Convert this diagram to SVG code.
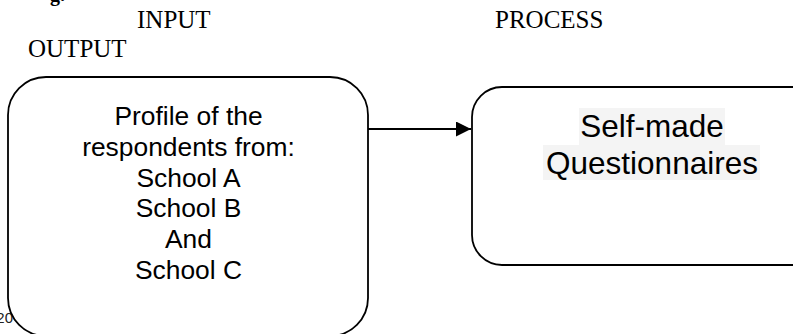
<svg xmlns="http://www.w3.org/2000/svg" width="793" height="334" viewBox="0 0 793 334">
<style>
.hdr{font-family:"Liberation Serif","Times New Roman",serif;font-size:25px;fill:#000}
.box{fill:none;stroke:#000;stroke-width:1.8}
.t1{font-family:"Liberation Sans",Arial,sans-serif;font-size:26.4px;fill:#000;text-anchor:middle}
.t2{font-family:"Liberation Sans",Arial,sans-serif;font-size:31.5px;fill:#000;text-anchor:middle}
</style>
<defs>
<marker id="arr" viewBox="0 0 10 10" refX="10" refY="5" markerWidth="7.5" markerHeight="7.5" orient="auto" markerUnits="strokeWidth">
<path d="M0,0 L10,5 L0,10 z" fill="#000"/>
</marker>
</defs>
<rect width="793" height="334" fill="#fff"/>
<g id="headers">
<text x="50" y="1" style="font-family:'Liberation Serif',serif;font-size:20px;font-weight:bold">g.</text>
<text class="hdr" x="137" y="28">INPUT</text>
<text class="hdr" x="495" y="28">PROCESS</text>
<text class="hdr" x="28" y="57">OUTPUT</text>
<text x="13" y="323" style="font-family:'Liberation Sans',Arial,sans-serif;font-size:15px;fill:#222;text-anchor:end">20</text>
</g>
<g id="input">
<rect class="box" x="8" y="77" width="360" height="259" rx="38" ry="38"/>
<text class="t1" x="188.5" y="125">Profile of the</text>
<text class="t1" x="188.5" y="156">respondents from:</text>
<text class="t1" x="188.5" y="187">School A</text>
<text class="t1" x="188.5" y="217">School B</text>
<text class="t1" x="188.5" y="248">And</text>
<text class="t1" x="188.5" y="279">School C</text>
</g>
<g id="process">
<rect class="box" x="472" y="87" width="360" height="178" rx="30" ry="30"/>
<rect x="579" y="108" width="146" height="37" fill="#f4f4f4"/>
<rect x="543" y="145" width="217" height="35" fill="#f4f4f4"/>
<text class="t2" x="652" y="137">Self-made</text>
<text class="t2" x="652" y="174">Questionnaires</text>
</g>
<g id="connectors">
<line x1="368" y1="129" x2="471" y2="129" stroke="#000" stroke-width="2" marker-end="url(#arr)"/>
</g>
</svg>
